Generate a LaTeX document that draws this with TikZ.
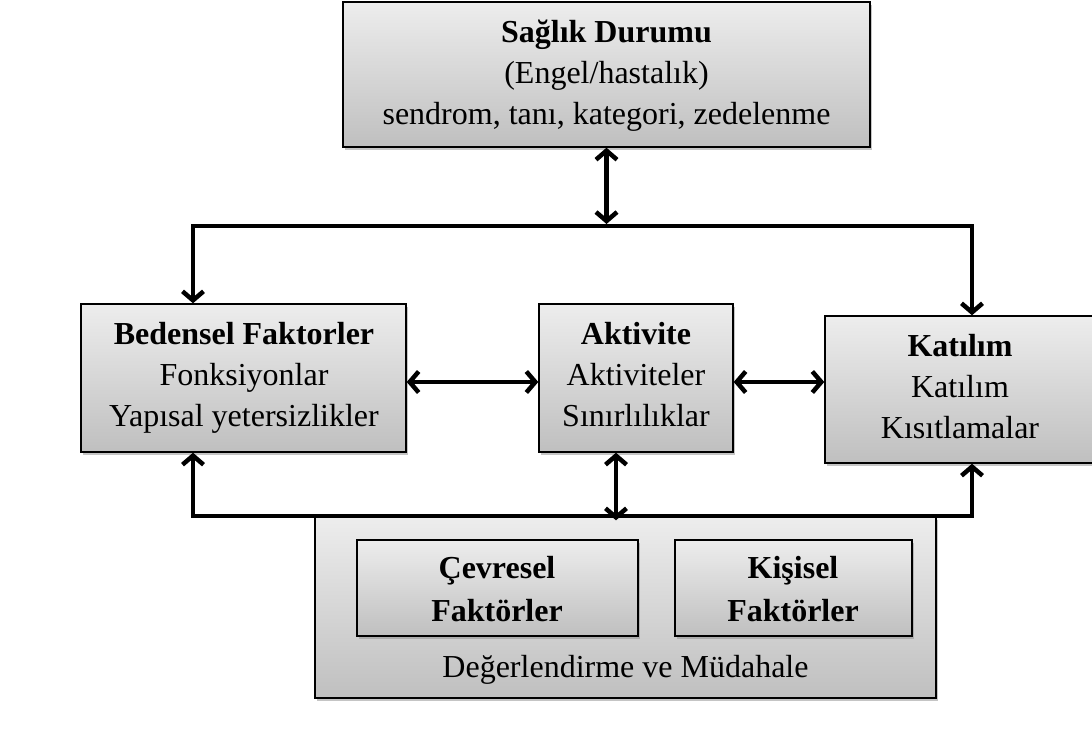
\documentclass[tikz,border=0pt]{standalone}
\usepackage{fontspec}
\setmainfont{Liberation Serif}
\usetikzlibrary{arrows.meta, shadows}
\tikzstyle{panel} = [rectangle, draw, line width=1.4pt, top color=black!7, bottom color=black!25, drop shadow={shadow xshift=2pt, shadow yshift=-3pt, fill=black!45, opacity=.5}]
\tikzstyle{txt} = [align=center, inner sep=0pt, font=\fontsize{32pt}{41pt}\selectfont, execute at begin node=\strut, execute at end node=\strut]
\tikzstyle{txtb} = [txt, font=\fontsize{32pt}{43pt}\selectfont]
\tikzstyle{link} = [line width=4.5pt, {Straight Barb[length=9pt,width=21pt]}-{Straight Barb[length=9pt,width=21pt]}]

\begin{document}
\begin{tikzpicture}[x=1pt, y=-1pt]

        \clip (0, 0) rectangle (1092, 736);

        \node[panel, minimum width=527pt, minimum height=145pt] at (606.5, 74.5) (saglik) {};
        \node[txt] at (606.5, 78.8) (saglikTxt) {\textbf{Sağlık Durumu}\\(Engel/hastalık)\\sendrom, tanı, kategori, zedelenme};

        \node[panel, minimum width=325pt, minimum height=148pt] at (243.5, 378) (bedensel) {};
        \node[txt] at (244, 380.3) (bedenselTxt) {\textbf{Bedensel Faktorler}\\Fonksiyonlar\\Yapısal yetersizlikler};

        \node[panel, minimum width=194pt, minimum height=148pt] at (636, 378) (aktivite) {};
        \node[txt] at (636, 380.3) (aktiviteTxt) {\textbf{Aktivite}\\Aktiviteler\\Sınırlılıklar};

        \node[panel, minimum width=270pt, minimum height=147pt] at (960, 389.5) (katilim) {};
        \node[txt] at (960, 392.8) (katilimTxt) {\textbf{Katılım}\\Katılım\\Kısıtlamalar};

        \node[panel, minimum width=621pt, minimum height=181pt] at (625.5, 607.5) (deger) {};
        \node[txtb] at (625.5, 668.4) (degerTxt) {Değerlendirme ve Müdahale};
        \node[panel, minimum width=281pt, minimum height=96pt] at (497.5, 588) (cevresel) {};
        \node[txtb] at (497, 594.9) (cevreselTxt) {\textbf{Çevresel}\\\textbf{Faktörler}};
        \node[panel, minimum width=237pt, minimum height=96pt] at (793.5, 588) (kisisel) {};
        \node[txtb] at (793, 594.9) (kisiselTxt) {\textbf{Kişisel}\\\textbf{Faktörler}};

        \coordinate (tl) at (193, 226);
        \coordinate (tr) at (972, 226);
        \coordinate (bl) at (193, 516);
        \coordinate (br) at (972, 516);

        \draw[link, shorten >=2pt] (saglik.south) -- (saglik.south |- tl);
        \draw[link] (tl |- bedensel.north) -- (tl) -- (tr) -- (tr |- katilim.north);
        \draw[link] (bl |- bedensel.south) -- (bl) -- (br) -- (br |- katilim.south);

        \draw[link] ([yshift=-4pt]bedensel.east) -- ([yshift=-4pt]aktivite.west);
        \draw[link] ([yshift=-4pt]aktivite.east) -- ([yshift=-4pt]aktivite.east -| katilim.west);
        \draw[link, shorten >=-4pt] ([xshift=-20pt]aktivite.south) -- ([xshift=-20pt]aktivite.south |- deger.north);

    \end{tikzpicture}
\end{document}
